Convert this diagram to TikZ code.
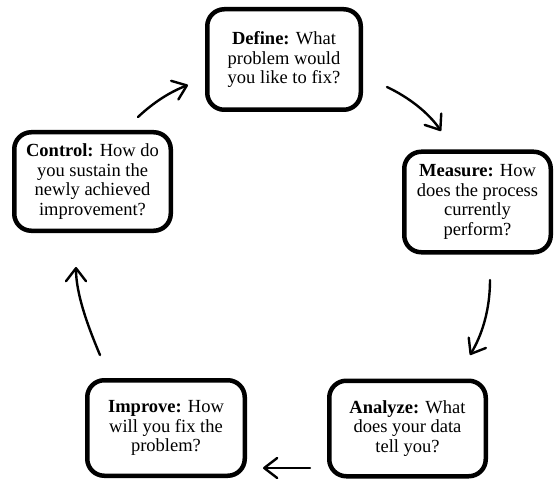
\documentclass[tikz,border=0pt]{standalone}
\usepackage{fontspec}
\setmainfont{Liberation Serif}
\usetikzlibrary{arrows.meta}

\tikzset{
  stage/.style={draw, line width=4.5pt, rounded corners=17pt, align=center,
    font=\fontsize{18.5}{19.5}\selectfont, inner sep=0pt},
  flow/.style={line width=2.4pt, line cap=round,
    -{Straight Barb[length=13pt,width=20pt,line cap=round,line join=round]}},
}

\begin{document}
\begin{tikzpicture}[x=1pt,y=-1pt]
  \useasboundingbox (0,0) rectangle (556,481);

  % the five stages of the improvement cycle
  \node[stage, minimum width=153.5, minimum height=100.5] (define) at (284,59.5)
    {\textbf{Define:} What\\problem would\\you like to fix?};
  \node[stage, minimum width=146.5, minimum height=100.5] (measure) at (477.5,202)
    {\textbf{Measure:} How\\does the process\\currently\\perform?};
  \node[stage, minimum width=156.5, minimum height=95.5] (analyze) at (407.5,428.5)
    {\textbf{Analyze:} What\\does your data\\tell you?};
  \node[stage, minimum width=157.5, minimum height=95.5] (improve) at (166,428)
    {\textbf{Improve:} How\\will you fix the\\problem?};
  \node[stage, minimum width=156.5, minimum height=98.5] (control) at (92.5,181.5)
    {\textbf{Control:} How do\\you sustain the\\newly achieved\\improvement?};

  % free ends of the cycle arrows
  \coordinate (cd1) at (138,117);  \coordinate (cd2) at (188,85);
  \coordinate (dm1) at (387,87);   \coordinate (dm2) at (441,131);
  \coordinate (ma1) at (490,280);  \coordinate (ma2) at (470,355);
  \coordinate (ai1) at (310,468);  \coordinate (ai2) at (263,468);
  \coordinate (ic1) at (100,355);  \coordinate (ic2) at (76,267);

  \draw[flow] (cd1) .. controls (154,102) and (170,92) .. (cd2);
  \draw[flow] (dm1) .. controls (408,97) and (428,112) .. (dm2);
  \draw[flow] (ma1) .. controls (490,310) and (482,335) .. (ma2);
  \draw[flow] (ai1) -- (ai2);
  \draw[flow] (ic1) .. controls (86,322) and (76,292) .. (ic2);
\end{tikzpicture}
\end{document}
